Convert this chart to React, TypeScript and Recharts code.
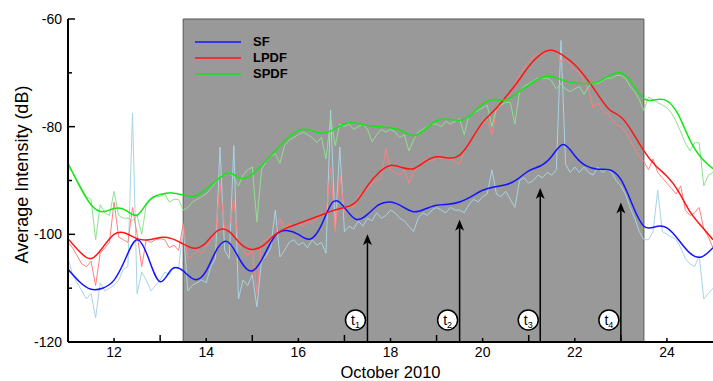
import { LineChart, Line, XAxis, YAxis, ReferenceArea, ReferenceLine, Legend } from "recharts";

const FONT = '"Liberation Sans", Arial, Helvetica, sans-serif';

// raw intensities, one sample every 0.1 day from Oct 11.0 to Oct 25.0
const RAW_START = 11;
const RAW_STEP = 0.1;
const sfRaw = [
  -104.5, -107.5, -109.0, -110.5, -112.0, -111.0, -115.5, -109.0, -110.5, -110.0,
  -109.5, -108.5, -106.5, -106.0, -77.5, -111.0, -107.0, -108.5, -110.5, -109.5,
  -108.5, -107.0, -107.5, -106.0, -106.5, -98.5, -110.5, -109.5, -109.0, -108.5,
  -109.0, -106.0, -104.5, -83.8, -103.0, -104.5, -83.5, -112.0, -108.5, -109.5,
  -107.5, -113.5, -105.0, -104.0, -102.5, -95.5, -104.2, -103.0, -101.5, -101.0,
  -102.0, -101.5, -102.5, -101.0, -102.0, -101.5, -103.5, -76.9, -99.0, -83.8,
  -99.5, -98.5, -99.0, -97.5, -98.5, -97.0, -97.5, -96.0, -97.0, -96.5,
  -95.5, -96.0, -97.0, -97.5, -98.5, -99.5, -97.0, -96.0, -96.5, -95.5,
  -95.0, -95.5, -96.0, -95.0, -95.5, -95.5, -96.0, -94.5, -93.5, -94.0,
  -93.0, -92.5, -88.0, -92.5, -93.0, -92.0, -93.5, -95.0, -90.0, -89.5,
  -90.5, -90.0, -89.0, -89.5, -88.5, -89.0, -88.0, -64.0, -87.0, -88.5,
  -87.5, -88.5, -87.5, -88.5, -89.0, -87.5, -88.5, -88.0, -88.5, -90.0,
  -91.0, -92.5, -95.0, -97.0, -99.5, -101.0, -101.0, -99.5, -91.8, -99.5,
  -100.0, -100.5, -101.0, -102.5, -104.5, -105.5, -106.0, -104.0, -112.0, -111.0,
  -110.0,
];
const lpdfRaw = [
  -101.5, -102.5, -104.0, -105.5, -106.0, -105.0, -109.5, -103.5, -102.5, -101.5,
  -94.0, -100.5, -101.0, -101.5, -95.0, -100.0, -106.0, -101.0, -101.5, -101.0,
  -100.8, -101.0, -102.5, -102.0, -103.0, -98.0, -104.5, -104.0, -103.0, -103.5,
  -102.5, -101.0, -100.0, -90.5, -99.0, -98.5, -93.6, -102.0, -103.0, -104.0,
  -103.0, -111.0, -101.5, -101.0, -100.5, -100.0, -97.0, -99.0, -98.0, -98.5,
  -98.0, -98.5, -97.5, -98.0, -97.0, -96.0, -96.5, -87.5, -99.5, -89.0,
  -96.0, -94.5, -95.0, -93.0, -92.0, -91.5, -90.5, -90.0, -89.5, -84.0,
  -88.0, -88.5, -89.0, -88.0, -90.5, -88.5, -87.5, -86.5, -86.0, -86.5,
  -85.5, -86.0, -85.5, -86.0, -86.5, -87.0, -84.5, -83.0, -82.0, -80.5,
  -79.5, -78.5, -81.5, -77.0, -76.0, -75.0, -73.5, -72.0, -70.5, -69.0,
  -68.0, -67.0, -66.5, -66.5, -66.0, -66.0, -66.0, -68.0, -67.5, -68.5,
  -69.5, -70.0, -71.5, -73.0, -76.5, -75.5, -77.0, -77.5, -78.5, -79.5,
  -80.0, -81.0, -82.5, -84.0, -85.5, -86.5, -88.0, -86.0, -88.5, -89.5,
  -90.5, -91.5, -92.5, -91.0, -95.5, -96.5, -96.0, -95.0, -99.0, -100.5,
  -102.5,
];
const spdfRaw = [
  -87.5, -88.5, -90.0, -91.5, -93.0, -93.5, -101.0, -94.5, -96.0, -96.5,
  -92.0, -96.5, -97.0, -97.0, -97.5, -96.5, -100.0, -94.5, -93.5, -93.0,
  -93.0, -92.5, -94.0, -93.5, -93.5, -95.5, -95.0, -94.0, -93.5, -93.0,
  -92.5, -91.5, -90.5, -89.0, -89.0, -88.5, -89.5, -91.0, -89.0, -88.0,
  -87.5, -97.7, -88.0, -86.5, -85.5, -85.0, -86.8, -83.5, -82.5, -82.0,
  -81.5, -81.0, -81.5, -82.0, -83.0, -82.0, -86.0, -78.5, -83.5, -79.5,
  -80.0, -79.5, -80.5, -80.0, -79.5, -80.5, -82.8, -81.5, -80.5, -81.0,
  -80.5, -81.0, -82.0, -81.5, -84.5, -82.5, -81.0, -80.5, -80.0, -79.5,
  -79.5, -80.0, -79.0, -79.5, -79.0, -78.5, -81.5, -78.0, -77.5, -77.0,
  -76.5, -76.0, -80.0, -76.5, -76.0, -75.5, -75.5, -79.5, -73.5, -72.5,
  -72.0, -71.5, -71.0, -71.0, -71.0, -71.5, -73.0, -72.0, -73.0, -73.5,
  -73.0, -72.5, -74.0, -72.5, -72.0, -72.0, -71.5, -71.0, -71.0, -70.5,
  -70.5, -71.0, -72.5, -73.5, -75.0, -77.0, -74.5, -75.0, -75.5, -76.0,
  -76.5, -77.5, -79.0, -81.0, -83.0, -84.5, -83.0, -83.0, -91.0, -89.0,
  -88.5,
];

// smoothed curves, one sample every 0.25 day
const SMOOTH_START = 11;
const SMOOTH_STEP = 0.25;
const sfSmooth = [
  -106.5, -108.8, -110.2, -110.0, -108.5, -104.5, -101.0, -104.5, -108.8, -106.5,
  -106.8, -108.4, -106.8, -102.5, -101.6, -105.0, -106.8, -104.0, -100.2, -99.3,
  -100.0, -100.9, -98.3, -94.0, -95.0, -97.2, -96.3, -94.5, -94.0, -94.8,
  -95.8, -95.3, -94.6, -94.4, -94.0, -93.0, -91.8, -91.2, -90.8, -89.8,
  -88.2, -87.3, -85.5, -83.3, -85.4, -87.3, -87.9, -88.0, -89.8, -94.5,
  -98.5, -98.6, -98.8, -101.0, -103.5, -104.2, -102.5,
];
const lpdfSmooth = [
  -100.8, -103.2, -104.5, -102.5, -100.0, -99.8, -100.8, -101.0, -100.6, -100.8,
  -101.8, -102.6, -101.5, -99.3, -99.5, -101.8, -102.8, -102.0, -100.0, -98.8,
  -98.0, -97.2, -96.4, -95.6, -95.0, -94.0, -91.0, -88.5, -87.2, -87.6,
  -87.8, -86.5, -85.6, -85.8, -85.3, -82.5, -79.2, -77.0, -74.5, -71.8,
  -68.8, -66.6, -65.8, -66.8, -68.5, -71.0, -74.0, -76.8, -78.2, -81.0,
  -84.5, -87.2, -89.2, -92.0, -95.8, -98.5, -101.0,
];
const spdfSmooth = [
  -86.8, -91.0, -94.5, -95.8, -95.2, -95.5, -96.4, -93.8, -92.6, -92.3,
  -92.7, -92.9, -91.6, -89.8, -88.6, -89.6, -88.8, -86.8, -84.5, -82.3,
  -80.7, -80.6, -81.2, -80.6, -79.5, -79.3, -79.8, -80.0, -80.2, -80.8,
  -81.7, -80.5, -78.9, -78.6, -78.8, -77.8, -75.8, -75.0, -75.0, -73.8,
  -72.3, -71.0, -70.7, -71.4, -71.9, -72.0, -71.7, -70.5, -70.0, -72.0,
  -74.8, -75.0, -75.2, -77.8, -82.5, -85.8, -87.8,
];

const seriesNames = ["SF", "LPDF", "SPDF"];

// shaded interval and the four marked times
const shadeFrom = 13.5;
const shadeTo = 23.5;
const markDays = [17.5, 19.5, 21.25, 23.0];
const markTips = [-100.0, -97.3, -91.4, -94.1];

const dayTicks = [12, 13, 14, 15, 16, 17, 18, 19, 20, 21, 22, 23, 24];
const dbTicks = [-120, -110, -100, -90, -80, -70, -60];

const toPoints = (vals: number[], start: number, step: number) =>
  vals.map((y, i) => ({ x: +(start + i * step).toFixed(2), y }));

const sfRawPts = toPoints(sfRaw, RAW_START, RAW_STEP);
const lpdfRawPts = toPoints(lpdfRaw, RAW_START, RAW_STEP);
const spdfRawPts = toPoints(spdfRaw, RAW_START, RAW_STEP);
const sfPts = toPoints(sfSmooth, SMOOTH_START, SMOOTH_STEP);
const lpdfPts = toPoints(lpdfSmooth, SMOOTH_START, SMOOTH_STEP);
const spdfPts = toPoints(spdfSmooth, SMOOTH_START, SMOOTH_STEP);

function DayTick({ x, y, payload, top }: any) {
  const v = payload.value;
  const even = v % 2 === 0;
  const len = even ? 4 : 7;
  return (
    <g>
      <line x1={x} x2={x} y1={y} y2={top ? y + len : y - len} stroke="#000" strokeWidth={1.5} />
      {!top && even && (
        <text x={x} y={y + 15} textAnchor="middle" fontSize={14} fontFamily={FONT} fill="#000">
          {v}
        </text>
      )}
    </g>
  );
}

function DbTick({ x, y, payload, right }: any) {
  const v = payload.value;
  const major = v % 20 === 0;
  const len = major ? 7 : 4;
  return (
    <g>
      <line x1={x} x2={right ? x - len : x + len} y1={y} y2={y} stroke="#000" strokeWidth={1.5} />
      {!right && major && (
        <text x={x - 6} y={y + 5} textAnchor="end" fontSize={14} fontFamily={FONT} fill="#000">
          {v}
        </text>
      )}
    </g>
  );
}

function Marker({ x1, y1, x2, y2, n }: any) {
  return (
    <g>
      <line x1={x1} y1={y1} x2={x2} y2={y2 + 8} stroke="#000" strokeWidth={1.5} />
      <path d={`M${x2},${y2} L${x2 - 4.5},${y2 + 11} L${x2},${y2 + 8} L${x2 + 4.5},${y2 + 11} Z`} fill="#000" />
      <circle cx={x1 - 12} cy={y1 - 22} r={10} fill="#fff" stroke="#000" strokeWidth={1.5} />
      <text x={x1 - 12} y={y1 - 17} textAnchor="middle" fontFamily={FONT} fontSize={14} fill="#000">
        t<tspan fontSize={9} dy={3}>{n}</tspan>
      </text>
    </g>
  );
}

function LegendBox({ payload }: any) {
  const items = seriesNames
    .map((name) => (payload ?? []).find((e: any) => e.value === name))
    .filter(Boolean);
  return (
    <div style={{ fontFamily: FONT, fontWeight: "bold", fontSize: 13, color: "#000" }}>
      {items.map((e: any) => (
        <div key={e.value} style={{ display: "flex", alignItems: "center", height: 16 }}>
          <svg width={46} height={4} style={{ display: "block" }}>
            <line x1={0} x2={46} y1={2} y2={2} stroke={e.color} strokeWidth={1.5} />
          </svg>
          <span style={{ marginLeft: 12, lineHeight: "16px" }}>{e.value}</span>
        </div>
      ))}
    </div>
  );
}

export default function App() {
  return (
    <div style={{ position: "absolute", left: 0, top: 0, width: 713, height: 381, overflow: "hidden", background: "#fff" }}>
      <LineChart width={714} height={381} margin={{ top: 19, right: 1, bottom: 9, left: 8 }}>
        <ReferenceArea x1={shadeFrom} x2={shadeTo} fill="#999999" fillOpacity={1} stroke="#555" strokeWidth={1} />
        <XAxis
          type="number"
          dataKey="x"
          domain={[11, 25]}
          ticks={dayTicks}
          interval={0}
          allowDataOverflow
          height={30}
          tickSize={0}
          tickMargin={0}
          tickLine={false}
          axisLine={{ stroke: "#000", strokeWidth: 2 }}
          tick={(p: any) => <DayTick {...p} />}
          label={(p: any) => {
            const vb = p.viewBox ?? { x: 68, y: 342, width: 645 };
            return (
              <text x={vb.x + vb.width / 2} y={vb.y + 36} textAnchor="middle" fontSize={16.5} fontFamily={FONT} fill="#000">
                October 2010
              </text>
            );
          }}
        />
        <XAxis
          xAxisId="top"
          orientation="top"
          type="number"
          dataKey="x"
          domain={[11, 25]}
          ticks={dayTicks}
          interval={0}
          allowDataOverflow
          height={0}
          tickSize={0}
          tickMargin={0}
          tickLine={false}
          axisLine={{ stroke: "#000", strokeWidth: 2 }}
          tick={(p: any) => <DayTick {...p} top />}
        />
        <YAxis
          type="number"
          domain={[-120, -60]}
          ticks={dbTicks}
          interval={0}
          allowDataOverflow
          width={60}
          tickSize={0}
          tickMargin={0}
          tickLine={false}
          axisLine={{ stroke: "#000", strokeWidth: 2 }}
          tick={(p: any) => <DbTick {...p} />}
          label={(p: any) => {
            const vb = p.viewBox ?? { x: 8, y: 19, height: 323 };
            const cx = vb.x + 14;
            const cy = vb.y + vb.height / 2 - 6;
            return (
              <text x={cx} y={cy} transform={`rotate(-90 ${cx} ${cy})`} textAnchor="middle" dominantBaseline="central" fontSize={18} fontFamily={FONT} fill="#000">
                Average Intensity (dB)
              </text>
            );
          }}
        />
        <YAxis
          yAxisId="right"
          orientation="right"
          type="number"
          domain={[-120, -60]}
          ticks={dbTicks}
          interval={0}
          allowDataOverflow
          width={0}
          tickSize={0}
          tickMargin={0}
          tickLine={false}
          axisLine={{ stroke: "#000", strokeWidth: 2 }}
          tick={(p: any) => <DbTick {...p} right />}
        />
        <Legend
          layout="vertical"
          align="center"
          verticalAlign="middle"
          wrapperStyle={{ left: 195, top: 34, width: "auto" }}
          content={(p: any) => <LegendBox {...p} />}
        />
        <Line data={sfRawPts} dataKey="y" name="SF raw" stroke="#a8d4e4" strokeWidth={1} dot={false} activeDot={false} legendType="none" isAnimationActive={false} />
        <Line data={lpdfRawPts} dataKey="y" name="LPDF raw" stroke="#ff8080" strokeWidth={1} dot={false} activeDot={false} legendType="none" isAnimationActive={false} />
        <Line data={spdfRawPts} dataKey="y" name="SPDF raw" stroke="#90e090" strokeWidth={1} dot={false} activeDot={false} legendType="none" isAnimationActive={false} />
        <Line data={sfPts} dataKey="y" name="SF" type="natural" stroke="#1414ff" strokeWidth={1.5} dot={false} activeDot={false} isAnimationActive={false} />
        <Line data={lpdfPts} dataKey="y" name="LPDF" type="natural" stroke="#ff1414" strokeWidth={1.5} dot={false} activeDot={false} isAnimationActive={false} />
        <Line data={spdfPts} dataKey="y" name="SPDF" type="natural" stroke="#14e614" strokeWidth={1.5} dot={false} activeDot={false} isAnimationActive={false} />
        {markDays.map((d, i) => (
          <ReferenceLine
            key={d}
            segment={[{ x: d, y: -120 }, { x: d, y: markTips[i] }]}
            shape={(p: any) => <Marker {...p} n={i + 1} />}
          />
        ))}
      </LineChart>
    </div>
  );
}
